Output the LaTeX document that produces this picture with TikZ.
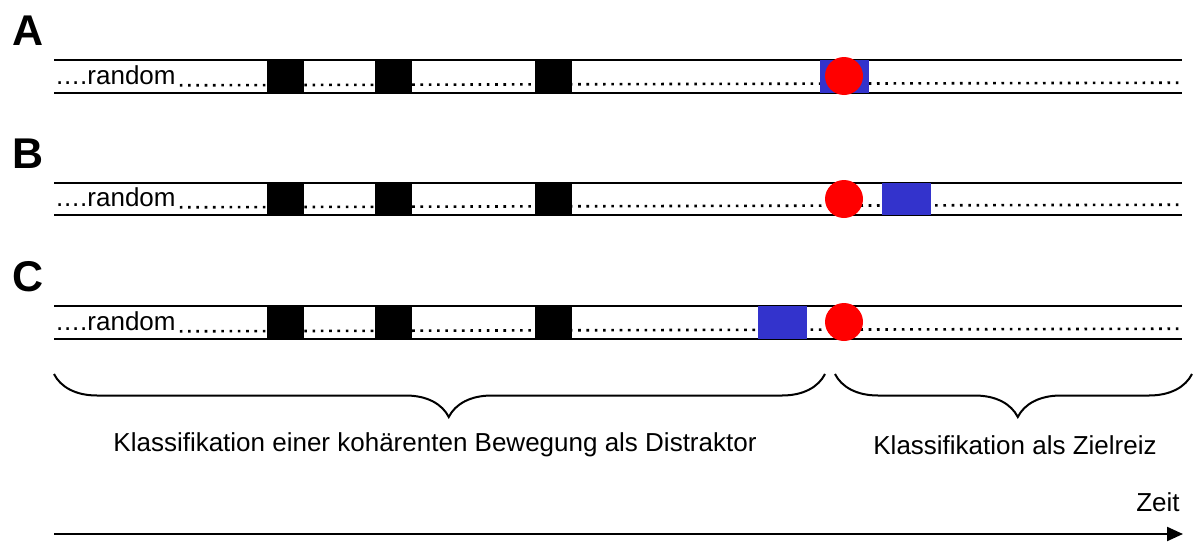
\documentclass[tikz,border=0pt]{standalone}
\usepackage{fontspec}
\setmainfont{Liberation Sans}
\usetikzlibrary{decorations.pathreplacing,arrows.meta}
\definecolor{cblue}{RGB}{51,51,204}
\begin{document}
\begin{tikzpicture}[x=1pt,y=-1pt,
  rail/.style={line width=2.2pt},
  dots/.style={line width=2.6pt, dash pattern=on 2.6pt off 5.7pt},
  blackbox/.style={fill=black, draw=none, minimum width=37pt, minimum height=33pt, inner sep=0pt, outer sep=0pt},
  bluebox/.style={fill=cblue, draw=none, minimum width=49pt, minimum height=33pt, inner sep=0pt, outer sep=0pt},
  stim/.style={circle, fill=red, draw=none, minimum size=38pt, inner sep=0pt},
  txt/.style={font=\fontsize{26}{30}\selectfont, inner sep=0pt},
  rowlbl/.style={font=\fontsize{43}{48}\bfseries\selectfont, inner sep=0pt},
  brc/.style={line width=2pt, decorate, decoration={brace, mirror, amplitude=43pt, aspect=0.512}}]
\useasboundingbox (0,0) rectangle (1194,541);
\fill[white] (0,0) rectangle (1194,541);

% Row A
\node[rowlbl] (lA) at (28,31) {A};
\draw[rail] (54,60) -- (1182,60);
\draw[rail] (54,93) -- (1182,93);
\node[txt, anchor=base west] (rA) at (56,84) {\addfontfeature{LetterSpace=3}....\addfontfeature{LetterSpace=0}random};
\draw[dots] ([xshift=4pt,yshift=-1.3pt]rA.base east) -- (1182,82.7);
\node[blackbox] (a1) at (285.5,76.5) {};
\node[blackbox] (a2) at (393.5,76.5) {};
\node[blackbox] (a3) at (553.5,76.5) {};
\node[bluebox] (ab) at (844,76.5) {};
\node[stim] (ar) at (844,76) {};

% Row B
\node[rowlbl] (lB) at (28,154) {B};
\draw[rail] (54,183) -- (1182,183);
\draw[rail] (54,215) -- (1182,215);
\node[txt, anchor=base west] (rB) at (56,206) {\addfontfeature{LetterSpace=3}....\addfontfeature{LetterSpace=0}random};
\draw[dots] ([xshift=4pt,yshift=-1.3pt]rB.base east) -- (1182,204.7);
\node[blackbox, minimum height=32pt] (b1) at (285.5,199) {};
\node[blackbox, minimum height=32pt] (b2) at (393.5,199) {};
\node[blackbox, minimum height=32pt] (b3) at (553,199) {};
\node[stim] (br) at (844,199) {};
\node[bluebox, minimum height=32pt] (bb) at (906,199) {};

% Row C
\node[rowlbl] (lC) at (28,277) {C};
\draw[rail] (54,306) -- (1182,306);
\draw[rail] (54,339) -- (1182,339);
\node[txt, anchor=base west] (rC) at (56,330) {\addfontfeature{LetterSpace=3}....\addfontfeature{LetterSpace=0}random};
\draw[dots] ([xshift=4pt,yshift=-1.3pt]rC.base east) -- (1182,328.7);
\node[blackbox] (c1) at (285.5,322.5) {};
\node[blackbox] (c2) at (393.5,322.5) {};
\node[blackbox] (c3) at (553.5,322.5) {};
\node[bluebox] (cb) at (782,322.5) {};
\node[stim] (cr) at (844,322) {};

% Braces
\coordinate (b1s) at (54,374);
\coordinate (b1e) at (825,374);
\coordinate (b2s) at (835,374);
\coordinate (b2e) at (1192,374);
\draw[brc] (b1s) -- (b1e);
\draw[brc] (b2s) -- (b2e);
\node[txt] (t1) at (435,445) {Klassifikation einer kohärenten Bewegung als Distraktor};
\node[txt] (t2) at (1015,445) {Klassifikation als Zielreiz};

% Time axis
\node[txt] (zeit) at (1158,502) {Zeit};
\coordinate (ts) at (54,534);
\coordinate (te) at (1183,534);
\draw[line width=2.2pt, -{Triangle[length=16pt,width=14pt]}] (ts) -- (te);
\end{tikzpicture}
\end{document}
